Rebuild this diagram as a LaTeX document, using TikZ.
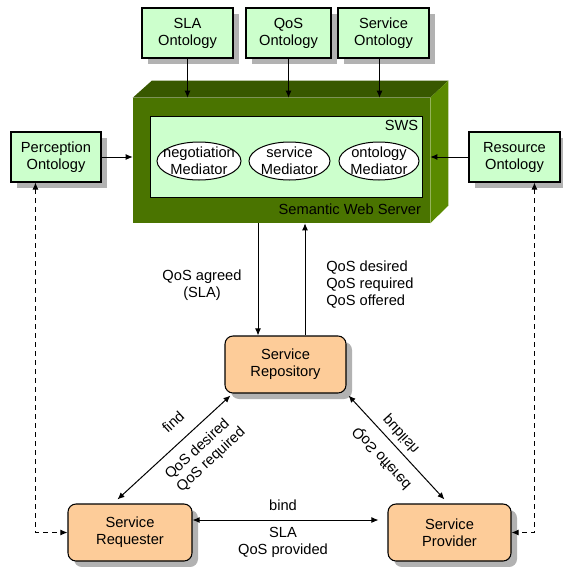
\documentclass[tikz,border=0pt]{standalone}
\usepackage{fontspec}
\setmainfont{Liberation Sans}
\usetikzlibrary{arrows.meta,shapes.geometric,shadows,calc}
\definecolor{ontogreen}{RGB}{204,255,204}
\definecolor{actororange}{RGB}{253,204,153}
\definecolor{serverfront}{RGB}{74,116,0}
\definecolor{servertop}{RGB}{56,88,0}
\definecolor{serverside}{RGB}{90,138,0}
\definecolor{shadowgray}{RGB}{178,178,178}

\begin{document}
\begin{tikzpicture}[x=0.75pt,y=-0.75pt,
    font=\fontsize{11}{12.75}\selectfont,
    >={Latex[length=5.25pt,width=4.5pt]},
    onto/.style={draw, fill=ontogreen, line width=0.8pt, align=center, inner sep=0pt,
      minimum height=37.5pt,
      drop shadow={shadow xshift=4.5pt, shadow yshift=-4.5pt, fill=shadowgray, opacity=1}},
    actor/.style={draw, fill=actororange, line width=0.8pt, rounded corners=6pt, align=center,
      inner sep=0pt, minimum height=42.75pt,
      drop shadow={shadow xshift=4.5pt, shadow yshift=-4.5pt, fill=shadowgray, opacity=1}},
    mediator/.style={ellipse, draw, fill=white, line width=0.75pt, inner sep=0pt,
      minimum height=28.5pt},
    link/.style={->, line width=0.75pt},
    both/.style={<->, line width=0.75pt},
    dashlink/.style={<->, line width=0.75pt, dash pattern=on 3.75pt off 3pt}]

  \useasboundingbox (0,0) rectangle (563,567);

  % semantic web server block
  \node[fill=serverfront, minimum width=222.75pt, minimum height=93.75pt, inner sep=0pt]
    (server) at (281.5,160.5) {};
  \fill[servertop] (server.north west) -- ++(19,-17) -- ($(server.north east)+(18,-17)$)
    -- (server.north east) -- cycle;
  \fill[serverside] (server.north east) -- ++(18,-17) -- ++(0,125) -- (server.south east) -- cycle;
  \node[draw, fill=ontogreen, line width=0.75pt, minimum width=204pt, minimum height=60.75pt,
    inner sep=0pt] (sws) at (286,156.5) {};
  \node[anchor=east, inner sep=0pt] (swslabel) at ($(sws.north east)+(-4,10)$) {SWS};
  \node[anchor=east, inner sep=0pt] (serverlabel) at ($(server.south east)+(-9,-14)$)
    {Semantic Web Server};

  \node[mediator, minimum width=63pt, label={[align=center]center:negotiation\\Mediator}]
    (neg) at (199,161) {};
  \node[mediator, minimum width=60.75pt, label={[align=center]center:service\\Mediator}]
    (srv) at (289.5,161) {};
  \node[mediator, minimum width=60pt, label={[align=center]center:ontology\\Mediator}]
    (ont) at (379,161) {};

  \begin{scope}[every node/.style={onto}]
    \node[minimum width=68.25pt] (sla)  at (187.5,33) {SLA\\Ontology};
    \node[minimum width=63.75pt] (qos)  at (288.5,33) {QoS\\Ontology};
    \node[minimum width=68.25pt] (svc)  at (383.5,33) {Service\\Ontology};
    \node[minimum width=67.5pt]  (perc) at (56,157)   {Perception\\Ontology};
    \node[minimum width=68.25pt] (res)  at (514.5,157) {Resource\\Ontology};
  \end{scope}

  \begin{scope}[every node/.style={actor}]
    \node[minimum width=90.75pt] (repo) at (285.5,364.5) {Service\\Repository};
    \node[minimum width=93pt]    (req)  at (130,532.5)   {Service\\Requester};
    \node[minimum width=92.25pt] (prov) at (449.5,532.5) {Service\\Provider};
  \end{scope}

  \coordinate (svcout) at ($(svc.south)+(-4,0)$);
  \coordinate (qosdown) at ($(repo.north)+(-27.5,0)$);
  \coordinate (qosup) at ($(repo.north)+(19.5,0)$);

  \draw[link] (sla) -- (sla |- server.north);
  \draw[link] (qos) -- (qos |- server.north);
  \draw[link] (svcout) -- (svcout |- server.north);
  \draw[link] (perc) -- (perc -| server.west);
  \draw[link] (res) -- (res -| server.east);
  \draw[link] (qosdown |- server.south) -- (qosdown);
  \draw[link] (qosup) -- (qosup |- server.south);

  \draw[both] ($(repo.south west)+(6,2)$) -- ($(req.north west)+(50,-4)$);
  \draw[both] ($(repo.south east)+(2,2)$) -- ($(prov.north west)+(57,-4)$);
  \draw[both] ($(req.east)+(0,-12.5)$) -- ($(prov.west)+(-9,-12.5)$);

  \draw[dashlink] ($(perc.south west)+(25,0)$) |- (req.west);
  \draw[dashlink] ($(res.south west)+(66,0)$) |- (prov.east);

  \node[align=center] (agreed) at (202,285) {QoS agreed\\(SLA)};
  \node[align=left, anchor=west, inner sep=0pt] (offers) at (326,285)
    {QoS desired\\QoS required\\QoS offered};
  \node (bindlbl) at (283,505) {bind};
  \node[align=center] (provided) at (283,542) {SLA\\QoS provided};

  \node[rotate=42.9] (findlbl) at (173,422) {find};
  \node[rotate=42.9, align=left] (needs) at (205.5,453.75) {QoS desired\\QoS required};
  \node[rotate=-47.3, yscale=-1] (publbl) at (401,434) {publish};
  \node[rotate=-47.3, yscale=-1] (offerlbl) at (382,458) {QoS offered};

\end{tikzpicture}
\end{document}
